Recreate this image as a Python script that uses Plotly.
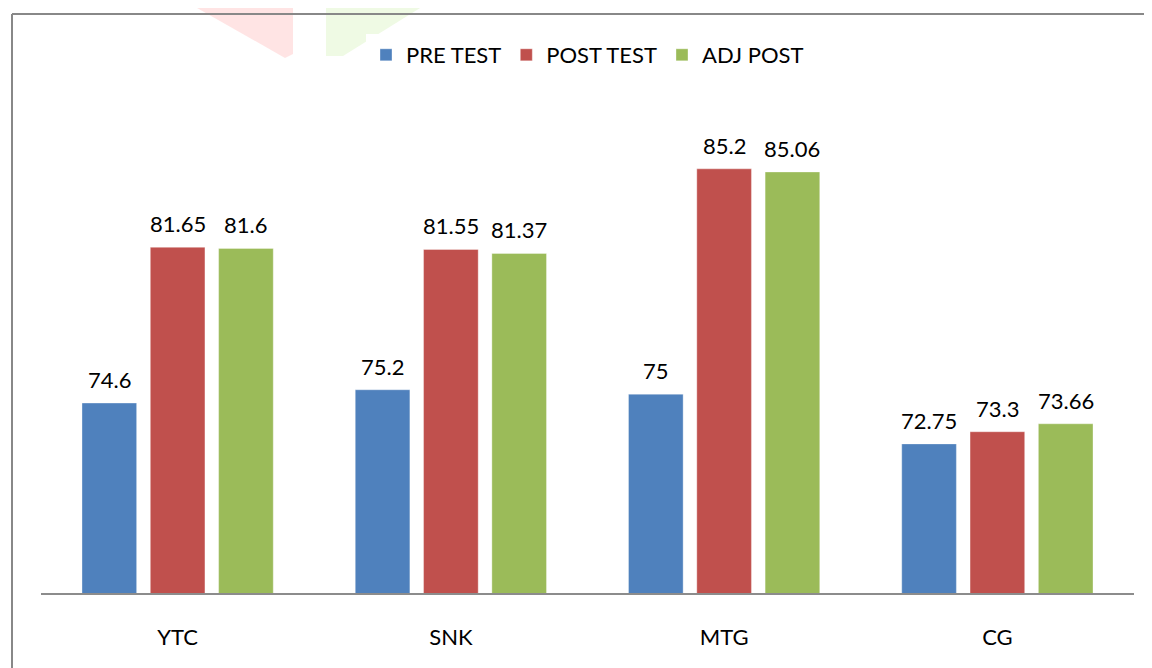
import plotly.graph_objects as go

categories = ["YTC", "SNK", "MTG", "CG"]
pre_test = [74.6, 75.2, 75, 72.75]
post_test = [81.65, 81.55, 85.2, 73.3]
adj_post = [81.6, 81.37, 85.06, 73.66]
series_names = ["PRE TEST", "POST TEST", "ADJ POST"]
colors = ["#4F81BD", "#C0504D", "#9BBB59"]

OFF = 8  # page offset of the figure (body margin)
W, H = 1152 - OFF, 668 - OFF
# plot area in page pixels: x 41..1134, y 107..593
ML = 41 - OFF
MT = 107 - OFF
MR = W - (1134 - OFF)
MB = H - (593 - OFF)
Y_RANGE = [66, 88]
FONT = "Lato, Calibri, Carlito, sans-serif"
FS = 22

pw = W - ML - MR
ph = H - MT - MB


def px(x, y):
    """page pixel -> paper coords"""
    return (x - OFF - ML) / pw, (H - MB - (y - OFF)) / ph


def path(points):
    parts = []
    for i, (x, y) in enumerate(points):
        u, v = px(x, y)
        parts.append(("M" if i == 0 else "L") + f"{u:.5f},{v:.5f}")
    return " ".join(parts) + " Z"


fig = go.Figure()
all_series = [pre_test, post_test, adj_post]
for name, vals, col in zip(series_names, all_series, colors):
    fig.add_trace(go.Bar(
        x=categories, y=vals, name=name,
        marker=dict(color=col, line=dict(color="rgba(255,255,255,0.35)", width=1)),
    ))

bargap, bargroupgap = 0.25, 0.2
cat_px = pw / len(categories)
slot = cat_px * (1 - bargap) / len(all_series)
annotations = []
for si, vals in enumerate(all_series):
    off = (si - (len(all_series) - 1) / 2) * slot
    for c, v in zip(categories, vals):
        annotations.append(dict(
            x=c, y=v, xref="x", yref="y", text=str(v), showarrow=False,
            xshift=off, yshift=8, yanchor="bottom",
            font=dict(family=FONT, size=FS, color="#000000"),
        ))

bx0, by0 = px(12, 14)
bx1, by1 = px(1152, 668)
shapes = [
    # watermark fragments
    dict(type="path", xref="paper", yref="paper",
         path=path([(183, 0), (293, 0), (293, 54), (285, 58)]),
         fillcolor="rgba(255,210,210,0.6)", line=dict(width=0), layer="below"),
    dict(type="path", xref="paper", yref="paper",
         path=path([(326, 0), (433, 0), (343, 56), (326, 56)]),
         fillcolor="rgba(228,246,210,0.6)", line=dict(width=0), layer="below"),
    # chart border: only top and left edges are visible in the picture
    dict(type="line", xref="paper", yref="paper", x0=bx0, x1=bx1 + 0.01, y0=by0, y1=by0,
         line=dict(color="#888888", width=2)),
    dict(type="line", xref="paper", yref="paper", x0=bx0, x1=bx0, y0=by0, y1=by1 - 0.02,
         line=dict(color="#888888", width=2)),
]

fig.update_layout(
    width=W, height=H,
    margin=dict(l=ML, r=MR, t=MT, b=MB),
    paper_bgcolor="white", plot_bgcolor="white",
    barmode="group", bargap=bargap, bargroupgap=bargroupgap,
    font=dict(family=FONT, size=FS, color="#000000"),
    showlegend=True,
    legend=dict(orientation="h", x=0.5, xanchor="center", y=px(0, 55)[1], yanchor="middle",
                font=dict(family=FONT, size=FS, color="#000000"),
                itemwidth=30, traceorder="normal"),
    xaxis=dict(showline=True, linecolor="#8c8c8c", linewidth=1.5, ticks="",
               tickfont=dict(family=FONT, size=FS, color="#000000"),
               ticklabelstandoff=24, showgrid=False),
    yaxis=dict(range=Y_RANGE, visible=False, showgrid=False, zeroline=False),
    annotations=annotations,
    shapes=shapes,
)

fig.write_html("out.html")
